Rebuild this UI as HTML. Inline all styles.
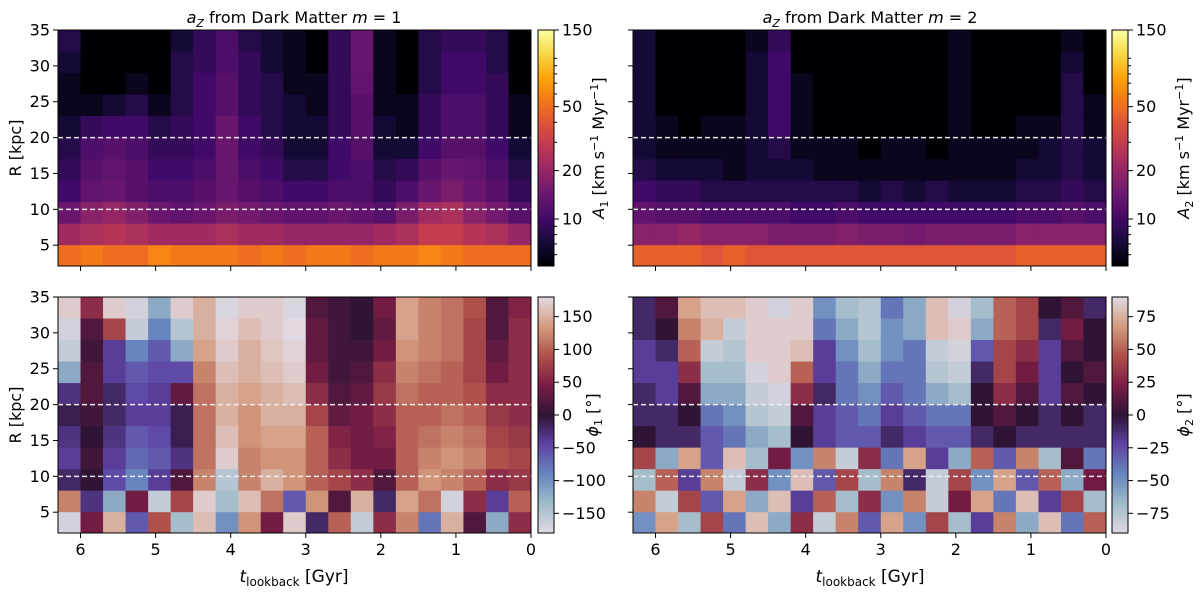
<!DOCTYPE html>
<html><head><meta charset="utf-8"><style>
body{margin:0;background:#fff;}
svg{display:block;font-family:"DejaVu Sans","Liberation Sans",sans-serif;}
</style></head><body>
<svg id="fig" width="1200" height="594" viewBox="0 0 1200 594" xmlns="http://www.w3.org/2000/svg">
<defs>
<linearGradient id="gInferno" x1="0" y1="1" x2="0" y2="0">
<stop offset="0" stop-color="#000004"/><stop offset="0.1" stop-color="#160b39"/><stop offset="0.2" stop-color="#420a68"/><stop offset="0.3" stop-color="#6a176e"/><stop offset="0.4" stop-color="#932667"/><stop offset="0.5" stop-color="#bc3754"/><stop offset="0.6" stop-color="#dd513a"/><stop offset="0.7" stop-color="#f37819"/><stop offset="0.8" stop-color="#fca50a"/><stop offset="0.9" stop-color="#f6d746"/><stop offset="1" stop-color="#fcffa4"/>
</linearGradient>
<linearGradient id="gTwi" x1="0" y1="1" x2="0" y2="0">
<stop offset="0" stop-color="#e2d9e2"/><stop offset="0.125" stop-color="#9ebbc9"/><stop offset="0.25" stop-color="#6785be"/><stop offset="0.375" stop-color="#5e43a5"/><stop offset="0.5" stop-color="#2f1436"/><stop offset="0.625" stop-color="#7a1d46"/><stop offset="0.75" stop-color="#b0504a"/><stop offset="0.875" stop-color="#d49c7f"/><stop offset="1" stop-color="#e2d9e2"/>
</linearGradient>
</defs>
</svg>
<script>
// ---- data (rows: R from 35 down to 2 in 3 kpc bands; cols: t from 6.3 down to 0 in 0.3 Gyr bins)
const tEdges = [6.3,6.0,5.7,5.4,5.1,4.8,4.5,4.2,3.9,3.6,3.3,3.0,2.7,2.4,2.1,1.8,1.5,1.2,0.9,0.6,0.3,0.0];
const rEdges = [35,32,29,26,23,20,17,14,11,8,5,2];
const xTicks = [6,5,4,3,2,1,0];
const yTicks = [5,10,15,20,25,30,35];
const ampTicks = [10,20,50,150];
const phi1Ticks = [-150,-100,-50,0,50,100,150];
const phi2Ticks = [-75,-50,-25,0,25,50,75];
const A1 = [
[8,5,5,5,5,7,9,11,8,7,6,5,9,14,6,5,8,9,9,8,5],
[7,5,5,5,5,8,9,11,9,7,6,5,9,14,6,5,8,10,10,8,5],
[6,5,5,6,5,8,10,12,9,8,6,6,9,13,6,5,8,10,10,9,5],
[6,6,7,8,6,8,10,12,9,8,7,6,9,12,6,6,9,11,11,9,6],
[7,9,10,10,8,9,10,14,10,8,7,7,9,12,7,6,9,11,11,9,6],
[8,11,12,11,9,9,10,14,10,9,7,7,10,12,7,7,10,12,12,10,7],
[9,12,13,12,10,10,11,14,11,10,8,8,10,11,8,9,12,14,13,11,8],
[10,13,14,12,11,11,12,14,12,11,10,10,11,11,9,11,14,16,14,12,9],
[14,18,20,17,14,13,14,16,15,14,13,13,14,13,12,16,22,24,18,15,12],
[22,24,26,24,22,22,22,24,22,22,20,20,20,20,22,24,30,30,26,24,20],
[50,55,50,50,60,55,55,55,50,55,50,55,55,50,55,55,60,55,50,50,50]];
const A2 = [
[7,5,5,5,5,6,9,5,5,5,5,5,5,5,6,5,5,5,5,6,5],
[7,5,5,5,5,7,10,5,5,5,5,5,5,5,6,5,5,5,5,7,5],
[7,5,5,5,5,7,10,6,5,5,5,5,5,5,6,5,5,5,5,8,5],
[7,5,5,5,5,7,10,6,5,5,5,5,5,5,6,5,5,5,5,8,6],
[7,6,5,6,6,7,10,6,5,5,5,5,5,5,6,5,5,6,6,8,6],
[7,6,6,6,6,7,8,6,6,6,5,6,6,5,6,6,6,6,7,8,7],
[8,7,7,7,6,7,7,7,6,6,6,6,6,6,6,6,6,7,7,8,7],
[10,9,9,8,8,8,8,8,8,8,7,8,7,8,7,7,7,8,8,9,8],
[13,12,12,11,11,11,11,10,10,11,10,10,10,10,10,10,10,11,11,12,11],
[18,18,20,18,18,18,16,16,16,17,16,16,15,16,16,16,16,18,18,18,18],
[45,45,45,40,45,40,40,40,40,40,40,40,40,40,40,40,40,45,45,45,45]];
const PHI1 = [
[170,60,170,-170,-120,170,150,-175,170,170,-175,20,10,0,40,140,120,110,90,20,50],
[-170,20,80,-160,-90,-150,150,175,160,170,180,30,10,0,30,140,120,110,80,20,60],
[-160,10,-40,-90,-60,-120,140,170,150,165,175,30,10,10,40,130,120,110,80,30,60],
[-120,20,-40,-60,-50,-50,120,160,150,160,170,40,10,20,60,120,110,100,80,40,60],
[-30,20,-20,-50,-40,30,110,150,140,150,160,60,20,30,70,110,100,100,90,60,60],
[-10,10,-20,-40,-40,-10,110,150,130,150,150,80,30,40,60,100,100,110,100,70,60],
[-30,0,-30,-60,-50,-10,110,160,130,140,140,100,50,40,50,100,110,120,110,80,70],
[-40,10,-40,-70,-60,-30,110,170,120,130,130,100,60,40,40,100,120,130,120,90,80],
[-20,0,-50,-90,-40,20,120,-150,120,150,130,100,80,60,20,100,130,120,100,60,70],
[120,-30,-120,40,-160,80,170,-140,160,110,-60,130,20,150,-20,140,110,-170,60,-40,100],
[-170,40,150,-60,90,-140,160,-100,130,40,170,-20,100,-160,60,120,-80,150,20,-120,60]];
const PHI2 = [
[-10,10,70,80,80,85,-85,85,-50,-70,-75,-40,-60,80,-85,-70,50,40,0,10,-10],
[-10,0,60,75,-80,85,85,85,-40,-60,-75,-50,-60,80,85,-60,50,40,-10,20,0],
[-20,-10,50,-80,-75,85,85,80,-20,-50,-70,-50,-40,-80,-85,-30,40,30,-20,10,0],
[-20,-20,30,-70,-70,-85,85,50,-20,-40,-60,-40,-40,-75,-80,-10,40,20,-20,0,10],
[-10,-20,10,-60,-60,-80,-85,30,-10,-40,-50,-30,-40,-60,-70,0,30,10,-20,10,0],
[-10,-10,0,-40,-50,-75,-80,10,-20,-30,-40,-20,-30,-40,-40,0,10,0,-10,0,-10],
[0,-10,-10,-30,-40,-60,-70,0,-20,-30,-30,-10,-20,-30,-30,-10,0,-10,-10,-10,-10],
[40,-60,70,-30,80,-70,20,-50,60,-80,30,-40,70,-20,-60,50,-30,60,-70,10,-40],
[-70,50,-20,60,-80,30,-50,80,-30,40,-70,60,-10,-80,40,-50,70,-30,50,-60,20],
[60,-80,40,-30,70,-60,80,-20,50,-70,30,-50,60,-80,20,70,-40,80,-20,40,-70],
[-50,70,-70,40,-40,80,-60,30,-80,60,-30,70,-50,40,-70,-20,60,-60,80,-40,50]];

const NS='http://www.w3.org/2000/svg';
const svg=document.getElementById('fig');
function mk(tag,attrs,parent){const e=document.createElementNS(NS,tag);for(const k in attrs)e.setAttribute(k,attrs[k]);(parent||svg).appendChild(e);return e;}
const infernoStops=['#000004','#160b39','#420a68','#6a176e','#932667','#bc3754','#dd513a','#f37819','#fca50a','#f6d746','#fcffa4'];
const twiStops=['#e2d9e2','#9ebbc9','#6785be','#5e43a5','#2f1436','#7a1d46','#b0504a','#d49c7f','#e2d9e2'];
function hex(c){return [parseInt(c.slice(1,3),16),parseInt(c.slice(3,5),16),parseInt(c.slice(5,7),16)];}
function cmap(stops,f){f=Math.max(0,Math.min(1,f));const n=stops.length-1;const i=Math.min(n-1,Math.floor(f*n));const t=f*n-i;const a=hex(stops[i]),b=hex(stops[i+1]);return 'rgb('+a.map((v,k)=>Math.round(v+(b[k]-v)*t)).join(',')+')';}

const PH=[30,297], PHh=236, PX=[58,633], PW=473;
const AMIN=5.1,AMAX=150;
function panel(px,py,data,kind,name,showX,showY){
  const xs=t=>px+(6.3-t)/6.3*PW;
  const ys=r=>py+(35-r)/(35-2.1)*PHh;
  const g=mk('g',{},svg);
  
  
  for(let i=0;i<rEdges.length-1;i++)for(let j=0;j<tEdges.length-1;j++){
    const v=data[i][j];
    let f;
    if(kind==='amp') f=Math.log(v/AMIN)/Math.log(AMAX/AMIN);
    else if(kind==='p1') f=(v+180)/360; else f=(v+90)/180;
    const x0=xs(tEdges[j]),x1=xs(tEdges[j+1]);
    const y0=ys(rEdges[i]),y1=Math.min(py+PHh,ys(rEdges[i+1]));
    const c=mk('rect',{x:x0,y:Math.max(py,y0),width:x1-x0+0.5,height:y1-Math.max(py,y0)+0.5,fill:cmap(kind==='amp'?infernoStops:twiStops,f)},g);
    
    
  }
  [20,10].forEach(r=>{const l=mk('line',{x1:px,x2:px+PW,y1:ys(r),y2:ys(r),stroke:'#eee',"stroke-width":1.5,"stroke-dasharray":'5,3'},svg);
    
    });
  const fr=mk('rect',{x:px,y:py,width:PW,height:PHh,fill:'none',stroke:'#000',"stroke-width":1},svg);
  
  
  xTicks.forEach(t=>{mk('line',{x1:xs(t),x2:xs(t),y1:py+PHh,y2:py+PHh+5,stroke:'#000'});
    if(showX){const tx=mk('text',{x:xs(t),y:py+PHh+22,"text-anchor":'middle',"font-size":16});tx.textContent=t;
      
      }});
  yTicks.forEach(r=>{mk('line',{x1:px-5,x2:px,y1:ys(r),y2:ys(r),stroke:'#000'});
    if(showY){const tx=mk('text',{x:px-8,y:ys(r)+5.5,"text-anchor":'end',"font-size":16});tx.textContent=r;
      
      }});
}
function colorbar(x,y,kind,ticks,name){
  const w=16;
  const r=mk('rect',{x:x,y:y,width:w,height:PHh,fill:kind==='amp'?'url(#gInferno)':'url(#gTwi)',stroke:'#000'});
  
  
  ticks.forEach(v=>{let f;
    if(kind==='amp') f=Math.log(v/AMIN)/Math.log(AMAX/AMIN); else if(kind==='p1') f=(v+180)/360; else f=(v+90)/180;
    const yy=y+PHh-f*PHh;
    mk('line',{x1:x+w,x2:x+w+5,y1:yy,y2:yy,stroke:'#000'});
    const t=mk('text',{x:x+w+8,y:yy+5.5,"font-size":16});t.textContent=String(v).replace('-','\u2212');
    
    });
  if(kind==='amp'){[6,7,8,9,30,40,60,70,80,90,100].forEach(v=>{const yy=y+PHh-Math.log(v/AMIN)/Math.log(AMAX/AMIN)*PHh;mk('line',{x1:x+w,x2:x+w+3,y1:yy,y2:yy,stroke:'#000'});});}
}
panel(PX[0],PH[0],A1,'amp','amplitude-m1-heatmap',false,true);
panel(PX[1],PH[0],A2,'amp','amplitude-m2-heatmap',false,false);
panel(PX[0],PH[1],PHI1,'p1','phase-m1-heatmap',true,true);
panel(PX[1],PH[1],PHI2,'p2','phase-m2-heatmap',true,false);
colorbar(538,PH[0],'amp',ampTicks,'colorbar-a1');
colorbar(1112,PH[0],'amp',ampTicks,'colorbar-a2');
colorbar(538,PH[1],'p1',phi1Ticks,'colorbar-phi1');
colorbar(1112,PH[1],'p2',phi2Ticks,'colorbar-phi2');
</script>
<svg style="position:absolute;left:0;top:0" width="1200" height="594" font-family="DejaVu Sans, Liberation Sans, sans-serif">
<text x="294" y="23" text-anchor="middle" font-size="16"><tspan font-style="italic">a</tspan><tspan font-style="italic" font-size="11" dy="4">Z</tspan><tspan dy="-4"> from Dark Matter </tspan><tspan font-style="italic">m</tspan> = 1</text>
<text x="870" y="23" text-anchor="middle" font-size="16"><tspan font-style="italic">a</tspan><tspan font-style="italic" font-size="11" dy="4">Z</tspan><tspan dy="-4"> from Dark Matter </tspan><tspan font-style="italic">m</tspan> = 2</text>
<text transform="translate(21,148) rotate(-90)" text-anchor="middle" font-size="16">R [kpc]</text>
<text transform="translate(21,415) rotate(-90)" text-anchor="middle" font-size="16">R [kpc]</text>
<text transform="translate(604,148) rotate(-90)" text-anchor="middle" font-size="16"><tspan font-style="italic">A</tspan><tspan font-size="11" dy="4">1</tspan><tspan dy="-4"> [km s</tspan><tspan font-size="11" dy="-6">−1</tspan><tspan dy="6"> Myr</tspan><tspan font-size="11" dy="-6">−1</tspan><tspan dy="6">]</tspan></text>
<text transform="translate(1189,148) rotate(-90)" text-anchor="middle" font-size="16"><tspan font-style="italic">A</tspan><tspan font-size="11" dy="4">2</tspan><tspan dy="-4"> [km s</tspan><tspan font-size="11" dy="-6">−1</tspan><tspan dy="6"> Myr</tspan><tspan font-size="11" dy="-6">−1</tspan><tspan dy="6">]</tspan></text>
<text transform="translate(598,415) rotate(-90)" text-anchor="middle" font-size="16"><tspan font-style="italic">ϕ</tspan><tspan font-size="11" dy="4">1</tspan><tspan dy="-4"> [°]</tspan></text>
<text transform="translate(1189,415) rotate(-90)" text-anchor="middle" font-size="16"><tspan font-style="italic">ϕ</tspan><tspan font-size="11" dy="4">2</tspan><tspan dy="-4"> [°]</tspan></text>
<text x="294" y="582" text-anchor="middle" font-size="17"><tspan font-style="italic">t</tspan><tspan font-size="12" dy="4">lookback</tspan><tspan dy="-4"> [Gyr]</tspan></text>
<text x="870" y="582" text-anchor="middle" font-size="17"><tspan font-style="italic">t</tspan><tspan font-size="12" dy="4">lookback</tspan><tspan dy="-4"> [Gyr]</tspan></text>
</svg>
</body></html>
